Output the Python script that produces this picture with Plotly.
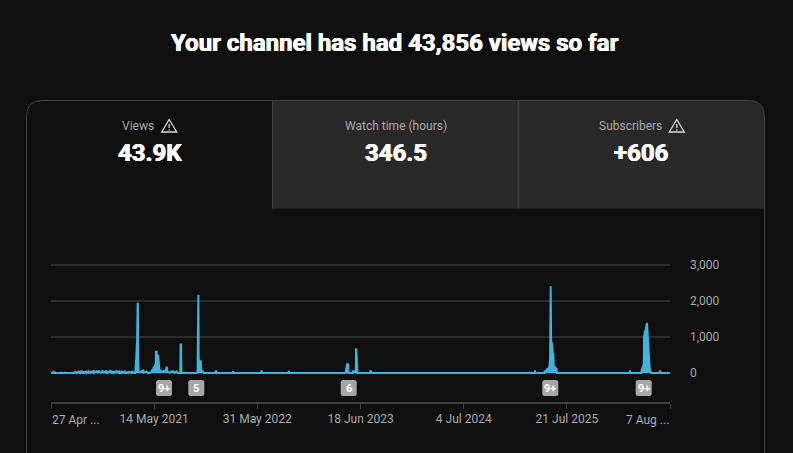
import pandas as pd
import plotly.graph_objects as go

W = 793
H = 453

START_DATE = "2020-04-27"

# Views per day, given as days since START_DATE
early_days = [0, 8, 9, 10, 14, 15, 16, 36, 37, 38, 50, 51, 52, 85, 86, 87, 90, 91, 95, 96, 103, 104, 108, 109,
              116, 117, 122, 123, 124, 131, 132, 138, 139, 145, 146, 147, 151, 152, 158, 159, 160, 166, 167,
              170, 171, 172, 178, 179, 183, 184, 190, 191, 192, 197, 198, 204, 205, 209, 210, 211, 217, 218,
              224, 225, 231, 232, 233, 240, 241, 247, 248, 253, 254, 261, 262, 263, 270, 271, 275, 276, 284,
              285, 290, 291, 298, 299, 305, 306, 310]
early_views = [0, 0, 60, 0, 0, 35, 0, 0, 30, 0, 0, 25, 0, 0, 20, 0, 45, 0, 30, 0, 50, 0, 25, 0, 55, 0, 0, 50,
               10, 35, 0, 40, 5, 0, 60, 10, 30, 0, 55, 70, 0, 30, 0, 65, 20, 0, 70, 5, 40, 0, 60, 75, 0, 35, 0,
               70, 10, 0, 60, 15, 50, 0, 65, 5, 0, 55, 0, 40, 0, 60, 5, 35, 0, 0, 65, 0, 30, 0, 55, 0, 0, 45,
               0, 25, 0, 50, 0, 30, 0]

spike_2021_days = [312, 313, 317, 319, 321, 322, 323, 325, 330, 336, 342, 343, 348, 354, 360]
spike_2021_views = [0, 40, 770, 900, 1954, 1900, 300, 30, 25, 40, 70, 10, 25, 45, 0]

hump_days = [367, 378, 385, 388, 389, 391, 393, 394, 397, 398, 400, 401, 404, 411, 418, 424, 428, 429, 431, 434, 440,
             446, 452, 458, 464, 470]
hump_views = [0, 110, 200, 250, 590, 590, 430, 480, 480, 260, 260, 120, 80, 30, 60, 40, 150, 150, 50, 40, 0, 45, 50,
              0, 45, 0]

spike_2022_days = [479, 480, 482, 483, 540, 543, 544, 546, 547, 548, 552, 555, 556, 558, 562, 566]
spike_2022_views = [0, 790, 790, 0, 0, 50, 2175, 2175, 400, 325, 325, 325, 130, 50, 50, 0]

late_2022_days = [610, 611, 613, 674, 675, 677, 779, 780, 782, 880, 881, 883]
late_2022_views = [0, 70, 0, 0, 50, 0, 0, 70, 0, 0, 60, 0]

spike_2023_days = [1091, 1092, 1096, 1097, 1101, 1102, 1118, 1119, 1126, 1127, 1129, 1130, 1131, 1134, 1135,
                   1182, 1183, 1186, 1187]
spike_2023_views = [0, 60, 150, 240, 240, 0, 0, 45, 45, 0, 0, 657, 657, 210, 0, 0, 70, 35, 0]

spike_2025_days = [1792, 1793, 1794, 1828, 1829, 1830, 1835, 1837, 1838, 1844, 1847, 1849, 1850, 1851, 1853, 1854,
                   1856, 1859, 1861, 1862, 1864, 1867, 1870, 1873, 1874]
spike_2025_views = [0, 70, 0, 0, 70, 20, 40, 130, 60, 150, 210, 400, 2407, 2407, 500, 842, 842, 518, 518, 200, 165,
                    165, 130, 120, 0]

spike_2026_days = [2144, 2145, 2146, 2185, 2189, 2193, 2196, 2197, 2198, 2200, 2202, 2203, 2205, 2206, 2207, 2208,
                   2210, 2212, 2213, 2216, 2218, 2221, 2222, 2255, 2256, 2258, 2293]
spike_2026_views = [0, 70, 0, 0, 100, 180, 260, 1000, 1090, 1150, 1150, 1230, 1230, 1370, 1370, 1370, 1020, 1020,
                    800, 350, 150, 60, 0, 0, 70, 0, 0]

view_days = (early_days + spike_2021_days + hump_days + spike_2022_days + late_2022_days
             + spike_2023_days + spike_2025_days + spike_2026_days)
view_counts = (early_views + spike_2021_views + hump_views + spike_2022_views + late_2022_views
               + spike_2023_views + spike_2025_views + spike_2026_views)

tick_dates = ["2020-04-27", "2021-05-14", "2022-05-31", "2023-06-18", "2024-07-04", "2025-07-21", "2026-08-07"]
tick_labels = ["", "14 May 2021", "31 May 2022", "18 Jun 2023", "4 Jul 2024", "21 Jul 2025", ""]
first_label = "27 Apr ..."
last_label = "7 Aug ..."

y_ticks = [0, 1000, 2000, 3000]

badge_labels = ["9+", "5", "6", "9+", "9+"]
badge_centres = [164, 196.3, 348.7, 550.3, 643.7]

tab_names = ["Views", "Watch time (hours)", "Subscribers"]
tab_values = ["43.9K", "346.5", "+606"]

BG = "#0f0f0f"
TAB_BG = "#282828"
BORDER = "#414141"
GRID = "#2b2b2b"
AXIS = "#3f3f3f"
GREY = "#aaaaaa"
BLUE = "#3eb4dc"
FONT = "Roboto"
HEAVY = "0.4px 0 0 #ffffff, -0.4px 0 0 #ffffff"


def px_x(x):
    return x / W


def px_y(y):
    return 1 - y / H


def path_shape(points, **kwargs):
    """Turn a pixel path like [("M", 1, 2), ("L", 3, 4)] into a paper shape."""
    parts = []
    for p in points:
        if p[0] == "Z":
            parts.append("Z")
        elif p[0] == "Q":
            parts.append(f"Q{px_x(p[1])},{px_y(p[2])} {px_x(p[3])},{px_y(p[4])}")
        else:
            parts.append(f"{p[0]}{px_x(p[1])},{px_y(p[2])}")
    return dict(type="path", xref="paper", yref="paper", path=" ".join(parts), layer="below", **kwargs)


def rounded_rect(x0, y0, x1, y1, r):
    return [("M", x0 + r, y0), ("L", x1 - r, y0), ("Q", x1, y0, x1, y0 + r), ("L", x1, y1 - r),
            ("Q", x1, y1, x1 - r, y1), ("L", x0 + r, y1), ("Q", x0, y1, x0, y1 - r), ("L", x0, y0 + r),
            ("Q", x0, y0, x0 + r, y0), ("Z",)]


def warning_icon(x0, y0):
    # little outlined triangle with an exclamation mark
    out = [path_shape([("M", x0 + 7.5, y0 + 0.5), ("L", x0 + 15, y0 + 13), ("L", x0, y0 + 13), ("Z",)],
                      line=dict(color="#d8d8d8", width=1.3))]
    out.append(path_shape([("M", x0 + 7.5, y0 + 5), ("L", x0 + 7.5, y0 + 9)], line=dict(color="#d8d8d8", width=1.3)))
    out.append(path_shape([("M", x0 + 7.5, y0 + 10.2), ("L", x0 + 7.5, y0 + 11.4)],
                          line=dict(color="#d8d8d8", width=1.3)))
    return out


def text(x, y, s, size, color, bold=False, anchor="center", shadow=None):
    font = dict(family=FONT, size=size, color=color)
    if shadow:
        font["shadow"] = shadow
    return dict(xref="paper", yref="paper", x=px_x(x), y=px_y(y), text=f"<b>{s}</b>" if bold else s,
                showarrow=False, xanchor=anchor, yanchor="middle", borderpad=0, font=font)


dates = pd.Timestamp(START_DATE) + pd.to_timedelta(view_days, unit="D")

fig = go.Figure()
fig.add_trace(
    go.Scatter(
        x=dates,
        y=view_counts,
        mode="lines",
        line=dict(color=BLUE, width=2),
        fill="tozeroy",
        fillcolor=BLUE,
        cliponaxis=False,
        hoverinfo="x+y",
    )
)

shapes = []
# inactive tabs
shapes.append(path_shape([("M", 272.5, 100.5), ("L", 748.5, 100.5), ("Q", 764.5, 100.5, 764.5, 116.5),
                          ("L", 764.5, 208.5), ("L", 272.5, 208.5), ("Z",)],
                         fillcolor=TAB_BG, line=dict(width=0)))
# card outline, runs off the bottom of the picture
shapes.append(path_shape([("M", 26.5, 460), ("L", 26.5, 116.5), ("Q", 26.5, 100.5, 42.5, 100.5),
                          ("L", 748.5, 100.5), ("Q", 764.5, 100.5, 764.5, 116.5), ("L", 764.5, 460)],
                         line=dict(color=BORDER, width=1)))
for x in [272.5, 518.5]:
    shapes.append(path_shape([("M", x, 100.5), ("L", x, 208.5)], line=dict(color=BORDER, width=1)))
shapes += warning_icon(161.7, 119)
shapes += warning_icon(669.3, 119)
for cx in badge_centres:
    shapes.append(path_shape(rounded_rect(cx - 8, 380, cx + 8, 396, 2.5), fillcolor="#a6a6a6", line=dict(width=0)))

annotations = [text(394.5, 43, "Your channel has had 43,856 views so far", 24, "#ffffff", bold=True, shadow=HEAVY)]
annotations.append(text(138, 126, tab_names[0], 12, GREY))
annotations.append(text(395.5, 126, tab_names[1], 12, GREY))
annotations.append(text(630, 126, tab_names[2], 12, GREY))
annotations.append(text(150, 153, tab_values[0], 24, "#ffffff", bold=True, shadow=HEAVY))
annotations.append(text(395.5, 153, tab_values[1], 24, "#ffffff", bold=True, shadow=HEAVY))
annotations.append(text(641, 153, tab_values[2], 24, "#ffffff", bold=True, shadow=HEAVY))
for cx, label in zip(badge_centres, badge_labels):
    annotations.append(text(cx, 388.5, label, 11, "#ffffff", bold=True))
annotations.append(text(50.5, 420, first_label, 12, GREY, anchor="left"))
annotations.append(text(670, 420, last_label, 12, GREY, anchor="right"))

fig.update_layout(
    width=W,
    height=H,
    margin=dict(l=0, r=0, t=0, b=0, autoexpand=False),
    paper_bgcolor=BG,
    plot_bgcolor="rgba(0,0,0,0)",
    showlegend=False,
    shapes=shapes,
    annotations=annotations,
    font=dict(family=FONT, color=GREY, size=12),
    xaxis=dict(
        type="date",
        domain=[px_x(51), px_x(670)],
        range=[tick_dates[0], tick_dates[-1]],
        anchor="free",
        position=px_y(403),
        tickmode="array",
        tickvals=tick_dates,
        ticktext=tick_labels,
        ticks="outside",
        ticklen=5,
        tickwidth=1,
        tickcolor=AXIS,
        showline=True,
        linecolor=AXIS,
        linewidth=2,
        showgrid=False,
        zeroline=False,
        tickfont=dict(family=FONT, size=12, color=GREY),
    ),
    yaxis=dict(
        # a little room past 0 and 3,000 so the edge gridlines and the baseline are drawn whole
        domain=[px_y(383), px_y(263)],
        range=[-278, 3055],
        side="right",
        tickmode="array",
        tickvals=y_ticks,
        tickformat=",d",
        ticks="",
        ticklabelstandoff=19,
        showline=False,
        showgrid=True,
        gridcolor=GRID,
        gridwidth=2,
        zeroline=False,
        tickfont=dict(family=FONT, size=12, color=GREY),
    ),
)

fig.write_html(
    "out.html",
    config=dict(displayModeBar=False),
    post_script="document.body.style.margin='0';document.body.style.background='#0f0f0f';"
                "document.body.style.overflow='hidden';",
)
